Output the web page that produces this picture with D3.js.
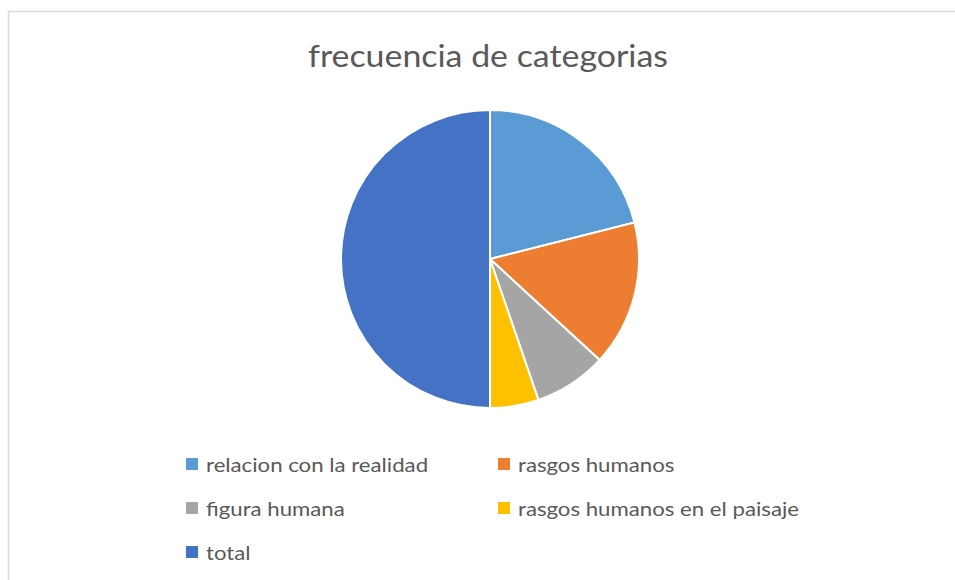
<!DOCTYPE html>
<html>
<head>
<meta charset="utf-8">
<script src="https://cdn.jsdelivr.net/npm/d3@7"></script>
<style>
  body { margin: 0; background: #fff; }
  text { font-family: Lato, "Open Sans", sans-serif; fill: #595959; }
</style>
</head>
<body>
<div id="chart"></div>
<script>
const categories = ['relacion con la realidad', 'rasgos humanos', 'figura humana', 'rasgos humanos en el paisaje', 'total']
const values = [8, 6, 3, 2, 19]
const colors = ['#5B9BD5', '#ED7D31', '#A5A5A5', '#FFC000', '#4472C4']

const chartWidth = 955
const chartHeight = 580
const center = { x: 490, y: 259 }
const radius = 149

const svg = d3.select('#chart')
  .append('svg')
    .attr('width', chartWidth)
    .attr('height', chartHeight)

// chart frame
svg.append('rect')
  .attr('x', 8.5)
  .attr('y', 11.5)
  .attr('width', 960)
  .attr('height', 600)
  .attr('fill', '#fff')
  .attr('stroke', '#d9d9d9')
  .attr('stroke-width', 1.5)

svg.append('text')
  .attr('x', 308)
  .attr('y', 67)
  .attr('textLength', 360)
  .attr('lengthAdjust', 'spacingAndGlyphs')
  .style('font-size', '30px')
  .text('frecuencia de categorias')

const pie = d3.pie().sort(null).value(d => d)
const arc = d3.arc().innerRadius(0).outerRadius(radius)

svg.append('g')
    .attr('transform', `translate(${center.x}, ${center.y})`)
  .selectAll('path')
  .data(pie(values))
  .enter()
  .append('path')
    .attr('d', arc)
    .attr('fill', (d, i) => colors[i])
    .attr('stroke', '#fff')
    .attr('stroke-width', 2)

// legend, two columns
const legendCols = [186, 498]
const legendRows = [464, 508, 552]

const legend = svg.append('g')
  .selectAll('g')
  .data(categories)
  .enter()
  .append('g')
    .attr('transform', (d, i) => `translate(${legendCols[i % 2]}, ${legendRows[Math.floor(i / 2)]})`)

legend.append('rect')
  .attr('x', 0)
  .attr('y', -6)
  .attr('width', 12)
  .attr('height', 12)
  .attr('fill', (d, i) => colors[i])

legend.append('text')
  .attr('x', 20)
  .attr('y', 8)
  .style('font-size', '20px')
  .text(d => d)
  .each(function() {
    // original face renders a bit wider than Lato
    const w = this.getComputedTextLength()
    d3.select(this)
      .attr('textLength', w * 1.11)
      .attr('lengthAdjust', 'spacingAndGlyphs')
  })
</script>
</body>
</html>
